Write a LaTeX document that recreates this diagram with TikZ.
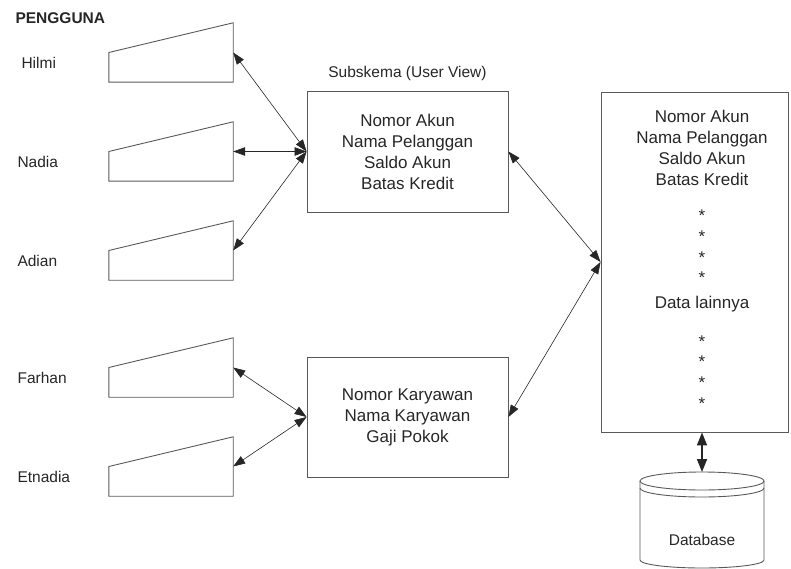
\documentclass[tikz,border=0pt]{standalone}
\usepackage{fontspec}
\setmainfont{Liberation Sans}
\usetikzlibrary{arrows.meta}

\begin{document}
\begin{tikzpicture}[x=1pt, y=-1pt, >={Triangle[length=12pt,width=8.5pt]},
    box/.style={draw=black!65, line width=0.9pt, inner sep=0pt},
    big/.style={font=\fontsize{17}{21}\selectfont, align=center, text=black!85},
    small/.style={font=\fontsize{15.5}{18}\selectfont, text=black!85},
    term/.style={minimum width=124pt, minimum height=59pt, inner sep=0pt},
    link/.style={<->, line width=0.6pt, black!85}]
    \useasboundingbox (0,0) rectangle (791,569);

    \node[small, font={\fontsize{15.5}{18}\selectfont\bfseries}, anchor=west] (pengguna) at (12,18) {PENGGUNA};

    % users
    \foreach \name/\who/\y/\lx in {hilmi/Hilmi/52.5/18, nadia/Nadia/151.5/14, adian/Adian/250.5/14,
                                    farhan/Farhan/367.5/14, etnadia/Etnadia/466.5/14} {
        \node[term] (\name) at (171,\y) {};
        \draw[box] (\name.south west) -- (\name.south east) -- (\name.north east) -- (\name.west) -- cycle;
        \node[small, anchor=west] (\name-lbl) at (\lx,\y+10.5) {\who};
    }

    % subschemas
    \node[small] (subtitle) at (407.5,73) {Subskema (User View)};
    \node[box, big, minimum width=201pt, minimum height=121pt] (sub1) at (407.5,151.5)
        {Nomor Akun\\Nama Pelanggan\\Saldo Akun\\Batas Kredit};
    \node[box, big, minimum width=201pt, minimum height=120pt] (sub2) at (407.5,417)
        {Nomor Karyawan\\Nama Karyawan\\Gaji Pokok};

    % conceptual data
    \node[box, minimum width=187pt, minimum height=340pt] (data) at (694.5,262) {};
    \node[big] (fields) at (702,148) {Nomor Akun\\Nama Pelanggan\\Saldo Akun\\Batas Kredit};
    \foreach \y in {216,237,258,278,342,362,383,404}
        \node[big] (star\y) at (702,\y) {*};
    \node[big] (other) at (702,304) {Data lainnya};

    % database
    \coordinate (dbtop) at (702,472);
    \draw[box] (702,481) ellipse [x radius=62, y radius=9];
    \draw[box] (640,488) arc[start angle=180, end angle=0, x radius=62, y radius=9];
    \draw[box] (640,481) -- (640,560) arc[start angle=180, end angle=0, x radius=62, y radius=8] -- (764,481);
    \node[small] (db) at (702,540) {Database};

    \foreach \n in {hilmi,nadia,adian} \draw[link] (\n.east) -- (sub1.west);
    \foreach \n in {farhan,etnadia} \draw[link] (\n.east) -- (sub2.west);
    \draw[link] (sub1.east) -- (data.west);
    \draw[link] (sub2.east) -- (data.west);
    \draw[<->, >={Triangle[length=13pt,width=10pt]}, line width=1.8pt, black!85] (data.south -| dbtop) -- (dbtop);
\end{tikzpicture}
\end{document}
